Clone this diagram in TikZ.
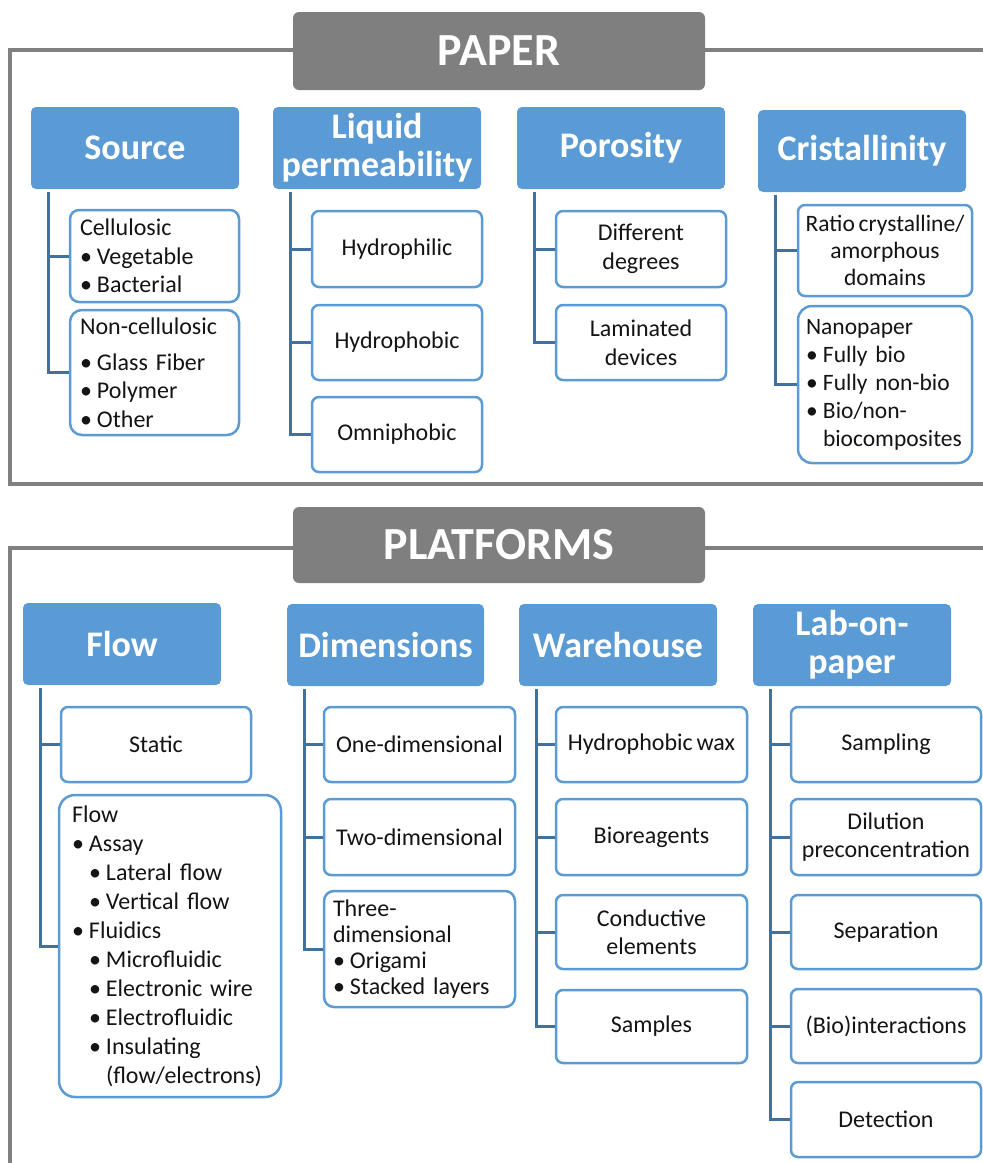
\documentclass[tikz,border=0pt]{standalone}
\usepackage{fontspec}
\setmainfont{Carlito}[WordSpace=0.7]
\definecolor{hdrblue}{HTML}{5B9BD5}
\definecolor{boxblue}{HTML}{5B9BD5}
\definecolor{connblue}{HTML}{41719C}
\definecolor{titlegray}{HTML}{7F7F7F}
\definecolor{framegray}{HTML}{808080}
\definecolor{txt}{HTML}{141414}
\newcommand\bul{\makebox[17pt][l]{\textbullet}}
\begin{document}
\begin{tikzpicture}[x=1pt,y=-1pt,
  hdr/.style={fill=hdrblue, draw=none, rounded corners=5pt, text=white,
    font=\fontsize{36}{38}\selectfont\bfseries, align=center, inner sep=0pt},
  sub/.style={draw=boxblue, line width=2.5pt, fill=white, rounded corners=7pt, text=txt,
    font=\fontsize{24}{28.5}\selectfont, align=center, inner sep=0pt},
  lsub/.style={sub, align=left, rounded corners=12pt},
  titlebox/.style={fill=titlegray, draw=none, rounded corners=6pt, text=white,
    font=\fontsize{46}{50}\selectfont\bfseries, inner sep=0pt},
  frameline/.style={draw=framegray, line width=4pt},
  conn/.style={draw=connblue, line width=3pt},
]
\useasboundingbox (0,0) rectangle (983,1163);

% frames
\draw[frameline] (983,50) -| (10,484) -- (983,484);
\draw[frameline] (983,548) -| (10,1163);

% titles
\node[titlebox, minimum width=412pt, minimum height=78pt] (paper) at (499,51) {PAPER};
\node[titlebox, minimum width=412pt, minimum height=76pt] (platforms) at (499,545) {PLATFORMS};

% headers PAPER
\node[hdr, minimum width=208pt, minimum height=82pt] (src) at (135,148) {Source};
\node[hdr, minimum width=208pt, minimum height=82pt] (liq) at (377,148) {Liquid\\permeability};
\node[hdr, minimum width=208pt, minimum height=82pt] (por) at (621,148) {Porosity};
\node[hdr, minimum width=208pt, minimum height=82pt] (cri) at (862,151) {Cristallinity};

% headers PLATFORMS
\node[hdr, minimum width=198pt, minimum height=82pt] (flow) at (122,644) {Flow};
\node[hdr, minimum width=197pt, minimum height=82pt] (dim) at (385.5,645) {Dimensions};
\node[hdr, minimum width=198pt, minimum height=82pt] (ware) at (618,645) {Warehouse};
\node[hdr, minimum width=198pt, minimum height=82pt] (lab) at (852,645) {Lab-on-\\paper};

% Source subs
\node[lsub, rounded corners=9pt, minimum width=169pt, minimum height=92pt, text width=149pt] (cell) at (154.5,256)
  {Cellulosic\\\bul Vegetable\\\bul Bacterial};
\node[lsub, minimum width=169pt, minimum height=125pt, text width=149pt] (noncell) at (154.5,372.5)
  {Non-cellulosic\\[7pt]\bul Glass Fiber\\\bul Polymer\\\bul Other};

% Liquid permeability subs
\node[sub, minimum width=170pt, minimum height=76pt] (hphil) at (397,249) {Hydrophilic};
\node[sub, minimum width=170pt, minimum height=75pt] (hphob) at (397,342.5) {Hydrophobic};
\node[sub, minimum width=170pt, minimum height=75pt] (omni) at (397,434.5) {Omniphobic};

% Porosity subs
\node[sub, minimum width=170pt, minimum height=76pt] (diff) at (641,249) {Different\\degrees};
\node[sub, minimum width=170pt, minimum height=75pt] (lam) at (641,342.5) {Laminated\\devices};

% Cristallinity subs
\node[sub, minimum width=174pt, minimum height=91pt, font=\fontsize{23.5}{27}\selectfont] (ratio) at (885,250.5)
  {Ratio crystalline/\\amorphous\\domains};
\node[lsub, rounded corners=14pt, minimum width=174pt, minimum height=157pt, text width=158pt,
  font=\fontsize{23.5}{28}\selectfont] (nano) at (885,384.5)
  {Nanopaper\\\bul Fully bio\\\bul Fully non-bio\\\bul Bio/non-\\\hspace*{17pt}biocomposites};

% Flow subs
\node[sub, minimum width=190pt, minimum height=75pt] (static) at (156,744.5) {Static};
\node[lsub, rounded corners=16pt, minimum width=222pt, minimum height=302pt, text width=196pt,
  font=\fontsize{24}{29}\selectfont] (flowsub) at (170,946)
  {Flow\\\bul Assay\\\hspace*{17pt}\bul Lateral flow\\\hspace*{17pt}\bul Vertical flow\\\bul Fluidics\\
   \hspace*{17pt}\bul Microfluidic\\\hspace*{17pt}\bul Electronic wire\\\hspace*{17pt}\bul Electrofluidic\\
   \hspace*{17pt}\bul Insulating\\\hspace*{34pt}(flow/electrons)};

% Dimensions subs
\node[sub, minimum width=191pt, minimum height=75pt] (one) at (419.5,744.5) {One-dimensional};
\node[sub, minimum width=191pt, minimum height=76pt] (two) at (419.5,837) {Two-dimensional};
\node[lsub, rounded corners=10pt, minimum width=191pt, minimum height=116pt, text width=173pt,
  font=\fontsize{24}{26}\selectfont] (three) at (419.5,949)
  {Three-\\dimensional\\\bul Origami\\\bul Stacked layers};

% Warehouse subs
\node[sub, minimum width=191pt, minimum height=75pt] (hwax) at (651.5,744.5) {Hydrophobic wax};
\node[sub, minimum width=191pt, minimum height=76pt] (biore) at (651.5,837) {Bioreagents};
\node[sub, minimum width=191pt, minimum height=74pt] (cond) at (651.5,932) {Conductive\\elements};
\node[sub, minimum width=191pt, minimum height=73pt] (samp) at (651.5,1026.5) {Samples};

% Lab-on-paper subs
\node[sub, minimum width=190pt, minimum height=75pt] (sampl) at (886,744.5) {Sampling};
\node[sub, minimum width=190pt, minimum height=76pt] (dil) at (886,837) {Dilution\\preconcentration};
\node[sub, minimum width=190pt, minimum height=74pt] (sep) at (886,932) {Separation};
\node[sub, minimum width=190pt, minimum height=74pt] (bioint) at (886,1026) {(Bio)interactions};
\node[sub, minimum width=190pt, minimum height=75pt] (det) at (886,1119.5) {Detection};

% connectors
\foreach \h/\c in {src/cell, src/noncell, liq/hphil, liq/hphob, liq/omni, por/diff, por/lam,
  cri/ratio, cri/nano, flow/static, flow/flowsub, dim/one, dim/two, dim/three,
  ware/hwax, ware/biore, ware/cond, ware/samp,
  lab/sampl, lab/dil, lab/sep, lab/bioint, lab/det}
  \draw[conn] ([xshift=18pt,yshift=-3pt]\h.south west) |- (\c.west);
\end{tikzpicture}
\end{document}
